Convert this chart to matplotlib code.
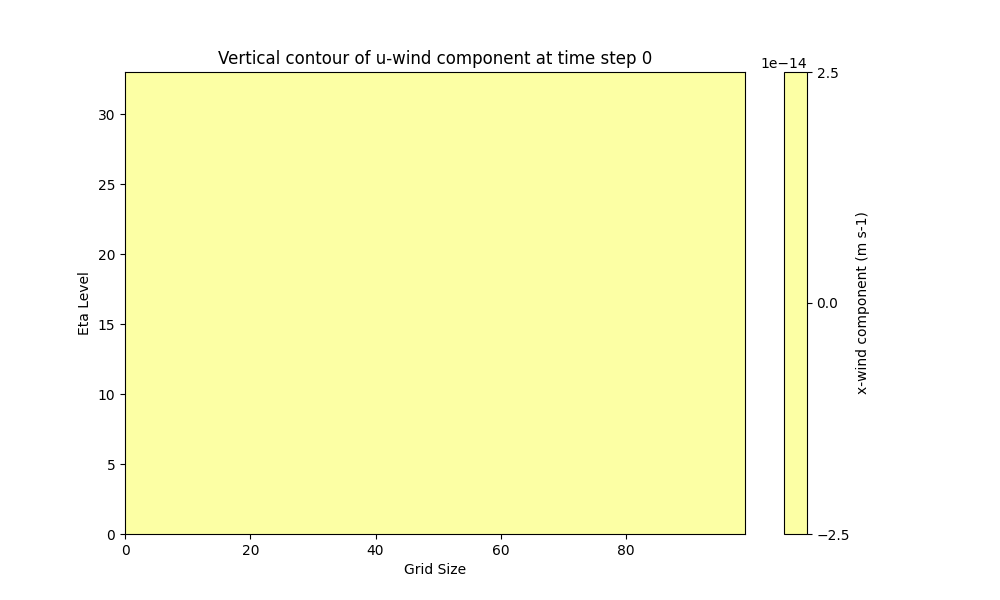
import numpy as np
import matplotlib
matplotlib.use("Agg")
import matplotlib.pyplot as plt

# Data: the u-wind field is uniformly zero at time step 0
n_grid = 100          # grid points along x (0..99)
n_eta = 34            # eta levels (0..33)
u_value = 0.0         # constant u-wind value (m s-1)
levels = [-2.5e-14, 2.5e-14]

grid = np.arange(n_grid)
eta = np.arange(n_eta)
u = np.full((n_eta, n_grid), u_value)

fig, ax = plt.subplots(figsize=(10, 6), dpi=100)
cf = ax.contourf(grid, eta, u, levels=levels, colors=[plt.cm.inferno(1.0)])
cb = fig.colorbar(cf, ax=ax)
cb.set_ticks([-2.5e-14, 0.0, 2.5e-14])
cb.set_label("x-wind component (m s-1)")
ax.set_title("Vertical contour of u-wind component at time step 0")
ax.set_xlabel("Grid Size")
ax.set_ylabel("Eta Level")
fig.savefig("out.png")
